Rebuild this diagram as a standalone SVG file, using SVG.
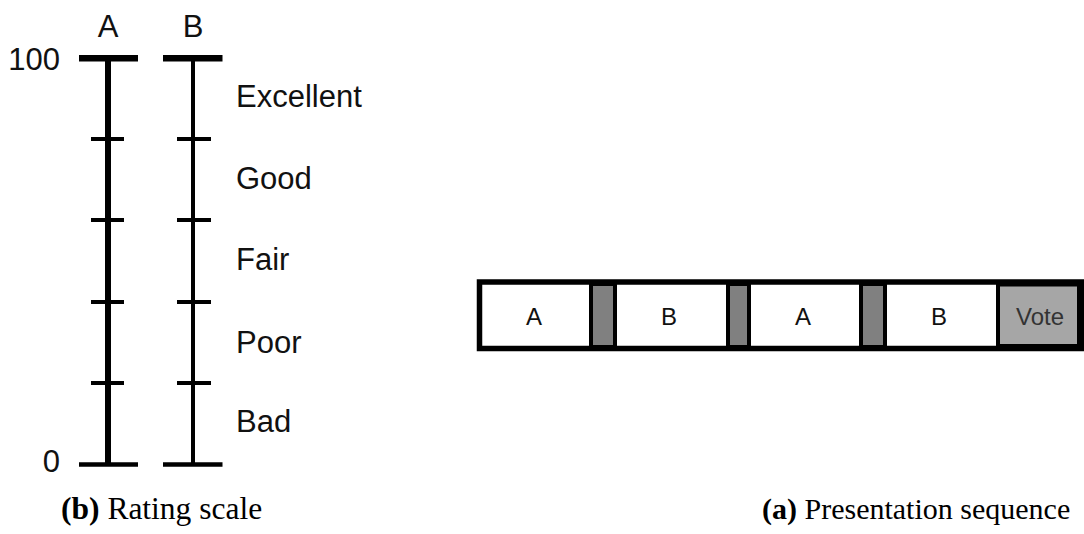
<svg xmlns="http://www.w3.org/2000/svg" width="1084" height="534" viewBox="0 0 1084 534">
<style>
.lbl{font-family:"Liberation Sans",Arial,sans-serif;font-size:31px;fill:#111}
.cell{font-family:"Liberation Sans",Arial,sans-serif;font-size:24px;fill:#111;text-anchor:middle}
.cap{font-family:"Liberation Serif","Times New Roman",serif;font-size:31px;fill:#000}
.b{font-weight:bold}
.ln{stroke:#000;fill:none}
.sep{fill:#808080;stroke:#000;stroke-width:4}
</style>
<rect width="1084" height="534" fill="#fff"/>
<g id="scaleA">
<text class="lbl" x="108" y="37" text-anchor="middle">A</text>
<line class="ln" x1="108" y1="58" x2="108" y2="465" stroke-width="6"/>
<line class="ln" x1="79" y1="58.3" x2="138" y2="58.3" stroke-width="6.5"/>
<line class="ln" x1="79" y1="464.5" x2="138" y2="464.5" stroke-width="4.5"/>
<line class="ln" x1="91" y1="139" x2="124" y2="139" stroke-width="4"/>
<line class="ln" x1="91" y1="220" x2="124" y2="220" stroke-width="4"/>
<line class="ln" x1="91" y1="302" x2="124" y2="302" stroke-width="4"/>
<line class="ln" x1="91" y1="383" x2="124" y2="383" stroke-width="4"/>
</g>
<g id="scaleB">
<text class="lbl" x="193" y="37" text-anchor="middle">B</text>
<line class="ln" x1="193" y1="58" x2="193" y2="465" stroke-width="4"/>
<line class="ln" x1="163" y1="58.3" x2="222.5" y2="58.3" stroke-width="6.5"/>
<line class="ln" x1="163" y1="464.5" x2="222.5" y2="464.5" stroke-width="4.5"/>
<line class="ln" x1="177" y1="139" x2="211" y2="139" stroke-width="4"/>
<line class="ln" x1="177" y1="220" x2="211" y2="220" stroke-width="4"/>
<line class="ln" x1="177" y1="302" x2="211" y2="302" stroke-width="4"/>
<line class="ln" x1="177" y1="383" x2="211" y2="383" stroke-width="4"/>
</g>
<g id="scaleLabels">
<text class="lbl" x="60" y="70" text-anchor="end">100</text>
<text class="lbl" x="60" y="472" text-anchor="end">0</text>
<text class="lbl" x="236" y="107">Excellent</text>
<text class="lbl" x="236" y="189">Good</text>
<text class="lbl" x="236" y="270">Fair</text>
<text class="lbl" x="236" y="353">Poor</text>
<text class="lbl" x="236" y="432">Bad</text>
</g>
<g id="sequence">
<rect x="479.5" y="282" width="602" height="66.5" fill="#fff" stroke="#000" stroke-width="5.5"/>
<rect x="998" y="284.5" width="81" height="61.5" fill="#a6a6a6" stroke="#000" stroke-width="4"/>
<rect class="sep" x="591" y="284" width="24" height="63"/>
<rect class="sep" x="728" y="284" width="21" height="63"/>
<rect class="sep" x="861" y="284" width="24" height="63"/>
<text class="cell" x="534" y="325">A</text>
<text class="cell" x="669" y="325">B</text>
<text class="cell" x="803" y="325">A</text>
<text class="cell" x="939" y="325">B</text>
<text class="cell" x="1040" y="325" style="fill:#333">Vote</text>
</g>
<g id="captions">
<text class="cap" x="61" y="519" style="font-size:31.5px"><tspan class="b">(b)</tspan> Rating scale</text>
<text class="cap" x="762" y="519" style="font-size:30px"><tspan class="b">(a)</tspan> Presentation sequence</text>
</g>
</svg>
